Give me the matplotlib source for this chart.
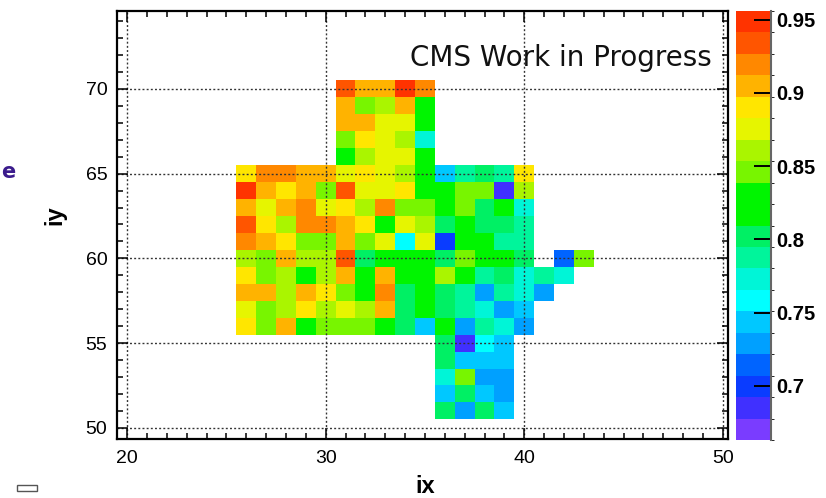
import numpy as np
import matplotlib
matplotlib.use("Agg")
import matplotlib.pyplot as plt
from matplotlib.colors import ListedColormap, BoundaryNorm
from matplotlib.ticker import MultipleLocator, FixedLocator
from matplotlib.patches import Rectangle

n = np.nan

# crystal indices
ix_values = np.arange(26, 44)          # columns 26 .. 43
iy_values = np.arange(70, 50, -1)      # rows 70 .. 51 (top to bottom)

# efficiency per crystal, one list per iy row, ix = 26 .. 43
row_70 = [n, n, n, n, n, .935, .905, .905, .950, .920, n, n, n, n, n, n, n, n]
row_69 = [n, n, n, n, n, .905, .850, .860, .905, .820, n, n, n, n, n, n, n, n]
row_68 = [n, n, n, n, n, .905, .905, .875, .875, .825, n, n, n, n, n, n, n, n]
row_67 = [n, n, n, n, n, .850, .890, .875, .860, .775, n, n, n, n, n, n, n, n]
row_66 = [n, n, n, n, n, .820, .860, .875, .875, .825, n, n, n, n, n, n, n, n]
row_65 = [.890, .920, .920, .905, .905, .875, .890, .875, .860, .820, .745, .790, .800, .790, .890, n, n, n]
row_64 = [.950, .905, .890, .905, .850, .935, .875, .875, .890, .825, .820, .850, .850, .685, .860, n, n, n]
row_63 = [.905, .875, .905, .920, .875, .890, .860, .920, .850, .850, .820, .850, .800, .825, .775, n, n, n]
row_62 = [.935, .890, .860, .920, .920, .905, .890, .820, .875, .860, .800, .820, .800, .800, .790, n, n, n]
row_61 = [.920, .905, .890, .850, .850, .905, .850, .875, .760, .875, .700, .820, .825, .790, .790, n, n, n]
row_60 = [.860, .850, .905, .860, .860, .935, .800, .820, .825, .820, .800, .850, .820, .825, .800, n, .715, .850]
row_59 = [.890, .850, .860, .820, .860, .905, .825, .905, .820, .825, .860, .820, .790, .800, .775, .790, .775, n]
row_58 = [.905, .905, .860, .905, .890, .850, .820, .920, .800, .825, .800, .790, .730, .790, .775, .730, n, n]
row_57 = [.875, .850, .860, .890, .860, .875, .860, .905, .800, .820, .800, .790, .775, .730, .745, n, n, n]
row_56 = [.890, .850, .905, .820, .850, .850, .850, .825, .800, .745, .820, .730, .790, .775, .730, n, n, n]
row_55 = [n, n, n, n, n, n, n, n, n, n, .800, .685, .760, .745, n, n, n, n]
row_54 = [n, n, n, n, n, n, n, n, n, n, .800, .745, .745, .745, n, n, n, n]
row_53 = [n, n, n, n, n, n, n, n, n, n, .775, .850, .730, .730, n, n, n, n]
row_52 = [n, n, n, n, n, n, n, n, n, n, .745, .800, .745, .730, n, n, n, n]
row_51 = [n, n, n, n, n, n, n, n, n, n, .800, .730, .800, .745, n, n, n, n]

rows = [row_70, row_69, row_68, row_67, row_66, row_65, row_64, row_63,
        row_62, row_61, row_60, row_59, row_58, row_57, row_56, row_55,
        row_54, row_53, row_52, row_51]

z_min, z_max = 0.663, 0.956
cbar_ticks = [0.70, 0.75, 0.80, 0.85, 0.90, 0.95]
cbar_labels = ["0.7", "0.75", "0.8", "0.85", "0.9", "0.95"]
x_ticks = [20, 30, 40, 50]
y_ticks = [50, 55, 60, 65, 70]

# 20-level rainbow palette, low to high
palette = ["#7a3cff", "#4030ff", "#0a3cff", "#0064ff", "#00a0ff",
           "#00c8ff", "#00ffff", "#00f5d7", "#00f59b", "#00f064",
           "#00f500", "#00f500", "#78f500", "#aaf500", "#e6f500",
           "#ffe600", "#ffb300", "#ff8800", "#ff5500", "#ff3300"]
cmap = ListedColormap(palette)
norm = BoundaryNorm(np.linspace(z_min, z_max, len(palette) + 1), cmap.N)

eff = np.ma.masked_invalid(np.array(rows)[::-1])   # bottom row first
x_edges = np.append(ix_values - 0.5, ix_values[-1] + 0.5)
y_edges = np.append(iy_values[::-1] - 0.5, iy_values[0] + 0.5)

W, H = 826, 498
fig = plt.figure(figsize=(W / 100, H / 100), dpi=100)
fig.patch.set_facecolor("white")

ax = fig.add_axes([117 / W, 1 - 439 / H, 611 / W, 428 / H])
mesh = ax.pcolormesh(x_edges, y_edges, eff, cmap=cmap, norm=norm,
                     shading="flat", zorder=1)
ax.set_xlim(19.49, 50.26)
ax.set_ylim(49.34, 74.60)

ax.set_axisbelow(False)
ax.xaxis.set_major_locator(FixedLocator(x_ticks))
ax.yaxis.set_major_locator(FixedLocator(y_ticks))
ax.xaxis.set_minor_locator(MultipleLocator(1))
ax.yaxis.set_minor_locator(MultipleLocator(1))
ax.grid(True, which="major", color="#333333", linestyle=(0, (1.4, 1.6)),
        linewidth=1.0)
ax.tick_params(which="both", direction="in", top=True, right=True,
               colors="black", width=1.1)
ax.tick_params(which="major", length=8)
ax.tick_params(which="minor", length=4)
ax.tick_params(axis="x", which="major", labelsize=14, pad=8)
ax.tick_params(axis="y", which="major", labelsize=14, pad=7)
for lab in ax.get_xticklabels() + ax.get_yticklabels():
    lab.set_fontfamily("Liberation Sans")
for sp in ax.spines.values():
    sp.set_linewidth(1.6)
    sp.set_color("black")

fig.text(425 / W, 1 - 486 / H, "ix", ha="center", va="center",
         fontsize=17, fontweight="bold", family="Liberation Sans")
fig.text(55 / W, 1 - 215 / H, "iy", ha="center", va="center", rotation=90,
         fontsize=17, fontweight="bold", family="Liberation Sans")

fig.text(712 / W, 1 - 58 / H, "CMS Work in Progress", ha="right",
         va="center", fontsize=20, family="DejaVu Sans", color="#111111")

# colour scale
cax = fig.add_axes([736 / W, 1 - 440 / H, 35 / W, 429 / H])
cb = fig.colorbar(mesh, cax=cax, ticks=cbar_ticks, spacing="proportional",
                  drawedges=False)
cb.outline.set_visible(False)
cax.set_yticklabels(cbar_labels)
cax.tick_params(axis="y", direction="in", length=12, width=1.4, pad=4,
                labelsize=14.5, right=True, left=False, colors="black")
for lab in cax.get_yticklabels():
    lab.set_fontweight("bold")
    lab.set_fontfamily("Liberation Sans")
cax.spines["right"].set_visible(True)
cax.spines["right"].set_color("#666666")
cax.spines["right"].set_linewidth(1.5)

# stray glyph and icon at the page margin
fig.text(1 / W, 1 - 172 / H, "e", ha="left", va="center", fontsize=15,
         fontweight="bold", color="#3b1c8c", family="DejaVu Sans")
fig.patches.append(Rectangle((17 / W, 1 - 491 / H), 20 / W, 6 / H,
                             transform=fig.transFigure, fill=False,
                             edgecolor="#555555", linewidth=1.0))

fig.savefig("out.png", dpi=100, facecolor="white")
